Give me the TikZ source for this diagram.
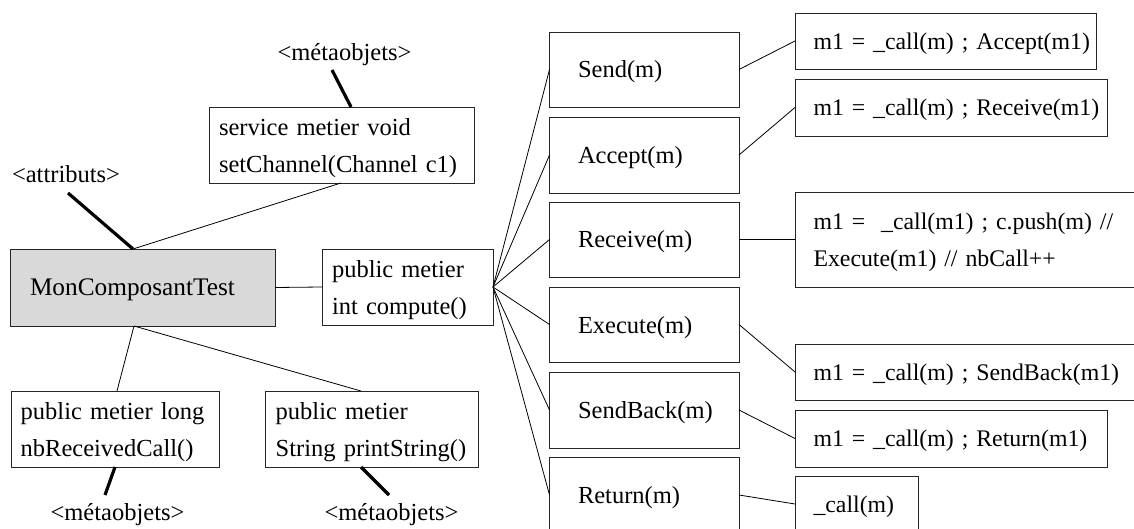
\documentclass[tikz,border=0pt]{standalone}
\usepackage{fontspec}
\setmainfont{Liberation Serif}
\newcommand\mybox[8][]{%
  \pgfmathsetmacro\bxw{#5-#3}%
  \pgfmathsetmacro\bxh{#6-#4}%
  \pgfmathsetmacro\bxt{#5-#3-2*#7}%
  \pgfmathsetmacro\bxcx{(#3+#5)/2}%
  \pgfmathsetmacro\bxcy{(#4+#6)/2}%
  \node[boxst,#1,minimum width=\bxw pt,minimum height=\bxh pt,text width=\bxt pt,inner xsep=#7 pt] (#2) at (\bxcx,\bxcy) {#8};%
}
\newcommand\firstline{\rule{0pt}{23pt}}
\tikzset{
  boxst/.style={draw=black!85,line width=0.9pt,rectangle,outer sep=0pt,inner ysep=0pt,
    align=left,font=\fontsize{24.5}{37}\selectfont},
  oneline/.style={text depth=0pt},
  codest/.style={font=\fontsize{23.8}{37}\selectfont},
  lbl/.style={font=\fontsize{24.5}{37}\selectfont,inner sep=0pt,anchor=base},
  conn/.style={line width=0.8pt},
  meta/.style={line width=3.2pt},
}
\begin{document}
\begin{tikzpicture}[x=1pt,y=-1pt]
\useasboundingbox (0,0) rectangle (1134,529);
\clip (0,0) rectangle (1134,529);
% left part
\mybox[fill=black!15,oneline,font=\fontsize{25.3}{37}\selectfont]{mon}{10.7}{249}{275}{326}{19.3}{MonComposantTest}
\mybox{svc}{209}{107}{474}{183}{10}{\mbox{\firstline service metier void}\\\mbox{setChannel(Channel c1)}}
\mybox{comp}{322}{249}{493}{325}{10}{\mbox{\firstline public metier}\\\mbox{int compute()}}
\mybox{nb}{11}{391}{219}{467}{9.7}{\mbox{\firstline public metier long}\\\mbox{nbReceivedCall()}}
\mybox{ps}{265.7}{391}{478}{467}{10}{\mbox{\firstline public metier}\\\mbox{String printString()}}
% middle column
\mybox[oneline]{send}{549.5}{32}{739}{107}{28.5}{Send(m)}
\mybox[oneline]{acc}{549.5}{117}{739}{193}{28.5}{Accept(m)}
\mybox[oneline]{rec}{549.5}{202}{739}{277}{28.5}{Receive(m)}
\mybox[oneline]{exe}{549.5}{287}{739}{362}{28.5}{Execute(m)}
\mybox[oneline]{sb}{549.5}{372}{739}{448}{28.5}{SendBack(m)}
\mybox[oneline]{ret}{549.5}{457}{739}{533}{28.5}{Return(m)}
% code column
\mybox[oneline,codest]{cA}{795}{13}{1096}{69}{18.5}{\mbox{m1 = \_call(m) ; Accept(m1)}}
\mybox[oneline,codest]{cB}{795}{79}{1107}{136}{18.5}{\mbox{m1 = \_call(m) ; Receive(m1)}}
\mybox[codest]{cC}{795}{192}{1160}{287}{18.5}{\mbox{\firstline m1 = \ \_call(m1) ; c.push(m) //}\\\mbox{Execute(m1) // nbCall++}}
\mybox[oneline,codest]{cD}{795}{344}{1160}{400}{18.5}{\mbox{m1 = \_call(m) ; SendBack(m1)}}
\mybox[oneline,codest]{cE}{795}{410}{1107}{467}{18.5}{\mbox{m1 = \_call(m) ; Return(m1)}}
\mybox[oneline,codest]{cF}{795}{476}{918}{532}{18.5}{\mbox{\_call(m)}}
% labels
\node[lbl] (attr) at (66,183) {<attributs>};
\node[lbl] (metaT) at (344.5,61) {<métaobjets>};
\node[lbl] (metaL) at (117.5,520) {<métaobjets>};
\node[lbl] (metaR) at (391.5,520) {<métaobjets>};
% attachment points
\coordinate (monT) at (133,249);
\coordinate (monB) at (134,326);
\coordinate (attrE) at (68,193);
\coordinate (svcB) at (341,183);
\coordinate (svcT) at (351,107);
\coordinate (svcE) at (332,70);
\coordinate (nbT) at (117,391);
\coordinate (nbB) at (115,467);
\coordinate (nbE) at (105,495);
\coordinate (psT) at (361,391);
\coordinate (psB) at (361,467);
\coordinate (psE) at (389,495);
% thick meta links
\draw[meta] (monT) -- (attrE);
\draw[meta] (svcT) -- (svcE);
\draw[meta] (nbB) -- (nbE);
\draw[meta] (psB) -- (psE);
% thin links
\draw[conn] (monT) -- (svcB);
\draw[conn] (monB) -- (nbT);
\draw[conn] (monB) -- (psT);
\draw[conn] (mon.east) -- (comp.west);
\foreach \t in {send,acc,rec,exe,sb,ret}{\draw[conn] (comp.east) -- (\t.west);}
\draw[conn] (send.east) -- (cA.west);
\draw[conn] (acc.east) -- (cB.west);
\draw[conn] (rec.east) -- (cC.west);
\draw[conn] (exe.east) -- (cD.west);
\draw[conn] (sb.east) -- (cE.west);
\draw[conn] (ret.east) -- (cF.west);
\end{tikzpicture}
\end{document}
